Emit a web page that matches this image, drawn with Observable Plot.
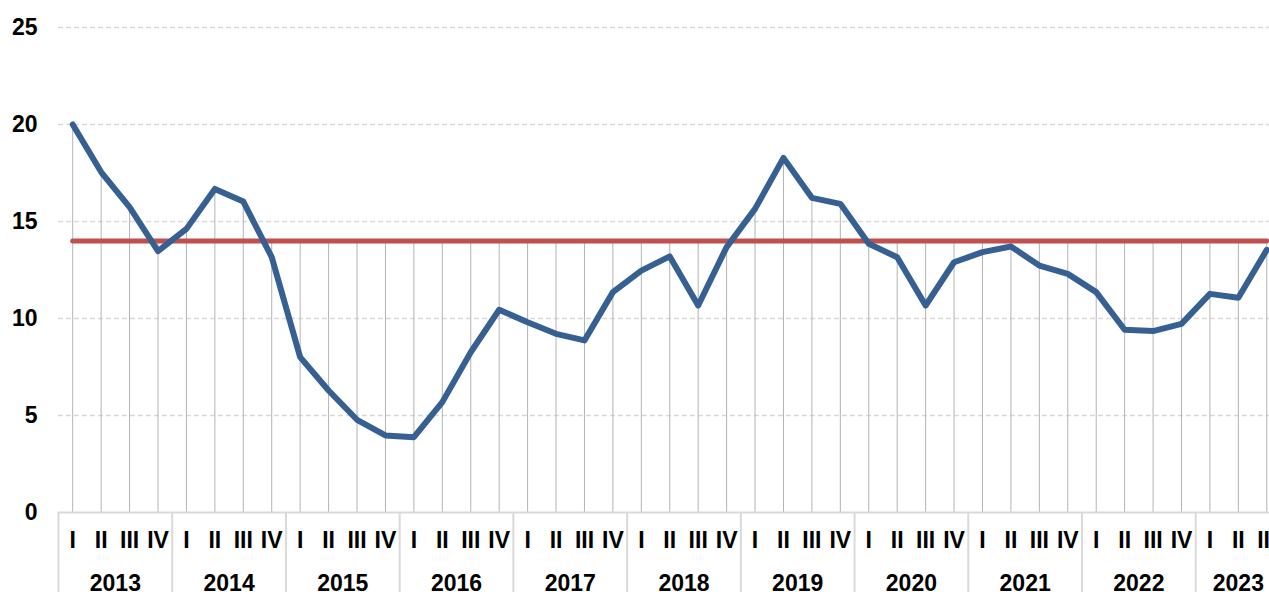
<!DOCTYPE html>
<html>
<head>
<meta charset="utf-8">
<script src="https://cdn.jsdelivr.net/npm/d3@7"></script>
<script src="https://cdn.jsdelivr.net/npm/@observablehq/plot@0.6"></script>
<style>
  html, body { margin: 0; padding: 0; background: #ffffff; }
  #chart svg { display: block; }
</style>
</head>
<body>
<div id="chart"></div>
<script>
const years = [2013, 2014, 2015, 2016, 2017, 2018, 2019, 2020, 2021, 2022, 2023];
const quarterLabels = ["I", "II", "III", "IV"];
const values = [
  20.0, 17.55, 15.74, 13.47,
  14.62, 16.68, 16.03, 13.16,
  8.01, 6.29, 4.78, 3.97,
  3.88, 5.69, 8.26, 10.45,
  9.81, 9.21, 8.87, 11.36,
  12.47, 13.2, 10.67, 13.68,
  15.65, 18.28, 16.22, 15.91,
  13.85, 13.16, 10.67, 12.9,
  13.42, 13.71, 12.73, 12.3,
  11.36, 9.42, 9.35, 9.72,
  11.27, 11.07, 13.54
];
const threshold = 14;
const yTicks = [0, 5, 10, 15, 20, 25];

const data = values.map((v, i) => ({
  i,
  value: v,
  year: years[Math.floor(i / 4)],
  q: quarterLabels[i % 4],
  threshold
}));

const yearGroups = years.map(y => {
  const idx = data.filter(d => d.year === y).map(d => d.i);
  return { year: y, center: d3.mean(idx), start: d3.min(idx) - 0.5 };
});

const font = "'Liberation Sans', Arial, sans-serif";

const chart = Plot.plot({
  width: 1269,
  height: 592,
  marginTop: 0, marginRight: 0, marginBottom: 0, marginLeft: 0,
  style: { background: "#ffffff", fontFamily: font, overflow: "hidden" },
  x: { type: "linear", domain: [-0.5, 42.5], range: [58, 1280.5], axis: null },
  y: { type: "linear", domain: [0, 25], range: [512, 27], axis: null },
  marks: [
    // dashed horizontal gridlines
    Plot.ruleY(yTicks.filter(t => t > 0), { x1: -0.5, x2: 44, stroke: "#d9d9d9", strokeWidth: 1.5, strokeDasharray: "5,3" }),
    // drop lines
    Plot.ruleX(data, { x: "i", y1: 0, y2: d => Math.max(d.value, d.threshold), stroke: "#b3b3b3", strokeWidth: 1 }),
    // baseline
    Plot.ruleY([0], { x1: -0.5, x2: 44, stroke: "#d9d9d9", strokeWidth: 2 }),
    // year separators in the category table
    Plot.ruleX(yearGroups, { x: "start", y1: 0, y2: -5, stroke: "#d9d9d9", strokeWidth: 2 }),
    // threshold line
    Plot.line(data, { x: "i", y: "threshold", stroke: "#c0504d", strokeWidth: 5, strokeLinecap: "round" }),
    // main series
    Plot.line(data, { x: "i", y: "value", stroke: "#376092", strokeWidth: 6, strokeLinejoin: "round", strokeLinecap: "round" }),
    // y tick labels
    Plot.text(yTicks, { y: d => d, text: d => String(d), frameAnchor: "left", dx: 37, textAnchor: "end",
      fontSize: 23, fontWeight: "bold", fill: "#000000" }),
    // quarter labels
    Plot.text(data, { x: "i", y: 0, text: "q", dy: 28, fontSize: 23, fontWeight: "bold", fill: "#000000" }),
    // year labels
    Plot.text(yearGroups, { x: "center", y: 0, text: d => String(d.year), dy: 71, fontSize: 23, fontWeight: "bold", fill: "#000000" })
  ]
});

document.getElementById("chart").appendChild(chart);
</script>
</body>
</html>
